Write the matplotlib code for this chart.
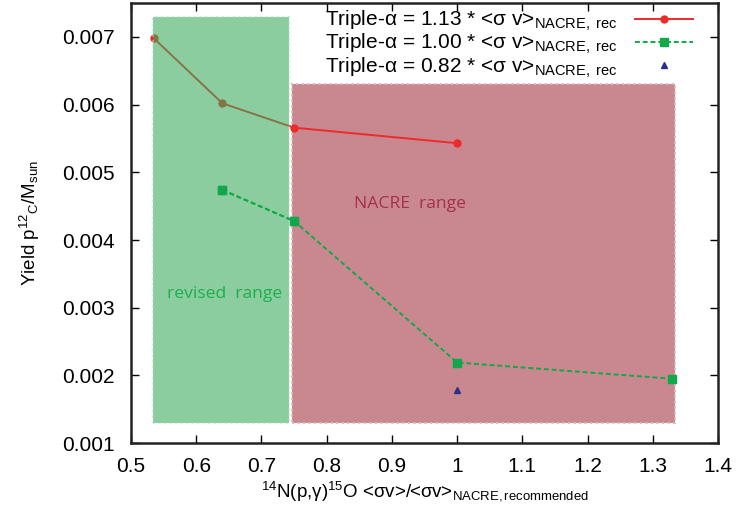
import matplotlib
matplotlib.use("Agg")
import matplotlib.pyplot as plt
from matplotlib.patches import Rectangle

plt.rcParams["font.family"] = ["Liberation Sans", "DejaVu Sans"]
plt.rcParams["mathtext.fontset"] = "custom"
plt.rcParams["mathtext.rm"] = "Liberation Sans"
plt.rcParams["mathtext.it"] = "Liberation Sans:italic"
plt.rcParams["mathtext.default"] = "regular"

# data
x_113 = [0.535, 0.64, 0.75, 1.0]
y_113 = [0.00698, 0.00602, 0.00566, 0.00543]
x_100 = [0.64, 0.75, 1.0, 1.33]
y_100 = [0.00474, 0.00428, 0.00219, 0.00195]
x_082 = [1.0]
y_082 = [0.00179]

revised_x = (0.534, 0.743)
revised_y = (0.0013, 0.00729)
nacre_x = (0.747, 1.334)
nacre_y = (0.0013, 0.0063)

labels = [
    r"Triple-$\alpha$ = 1.13 * <$\sigma$ v>$_{NACRE,\ rec}$",
    r"Triple-$\alpha$ = 1.00 * <$\sigma$ v>$_{NACRE,\ rec}$",
    r"Triple-$\alpha$ = 0.82 * <$\sigma$ v>$_{NACRE,\ rec}$",
]

fig = plt.figure(figsize=(7.36, 5.17), dpi=100)
ax = fig.add_axes([0.178, 0.143, 0.7975, 0.851])

ax.add_patch(Rectangle((nacre_x[0], nacre_y[0]), nacre_x[1] - nacre_x[0], nacre_y[1] - nacre_y[0],
                       facecolor="#c9888f", edgecolor="#e0b8bc", linestyle=":", linewidth=1.5, zorder=1))

l1, = ax.plot(x_113, y_113, color="#ee2a2a", marker="o", markersize=5, linewidth=1.4, zorder=2)
l2, = ax.plot(x_100, y_100, color="#10a84a", marker="s", markersize=6, linewidth=1.4,
              linestyle=(0, (2.5, 1.5)), zorder=2)
l3, = ax.plot(x_082, y_082, color="#2e2e8c", marker="^", markersize=5, linestyle="none", zorder=2)

ax.add_patch(Rectangle((revised_x[0], revised_y[0]), revised_x[1] - revised_x[0], revised_y[1] - revised_y[0],
                       facecolor="#3aaa5a", alpha=0.58, edgecolor="#a8dcb6", linestyle=":", linewidth=1.5, zorder=3))
# green line stays green inside the revised box
ax.plot(x_100[:2], y_100[:2], color="#10a84a", marker="s", markersize=6, linewidth=1.4,
        linestyle=(0, (2.5, 1.5)), zorder=4)

ax.text(0.928, 0.00453, "NACRE  range", color="#a3304d", fontsize=12.6, family="Open Sans",
        ha="center", va="center", zorder=5)
ax.text(0.643, 0.0032, "revised  range", color="#1bb04f", fontsize=12.6, family="Open Sans",
        ha="center", va="center", zorder=5)

ax.set_xlim(0.5, 1.4)
ax.set_ylim(0.001, 0.0075)
ax.set_xticks([0.5, 0.6, 0.7, 0.8, 0.9, 1.0, 1.1, 1.2, 1.3, 1.4])
ax.set_xticklabels(["0.5", "0.6", "0.7", "0.8", "0.9", "1", "1.1", "1.2", "1.3", "1.4"])
ax.set_yticks([0.001, 0.002, 0.003, 0.004, 0.005, 0.006, 0.007])
ax.set_yticklabels(["0.001", "0.002", "0.003", "0.004", "0.005", "0.006", "0.007"])
ax.tick_params(direction="in", top=True, right=True, labelsize=15, length=6, width=1)
ax.tick_params(axis="x", pad=10)
ax.tick_params(axis="y", pad=12)
for s in ax.spines.values():
    s.set_linewidth(1.8)
    s.set_color("#222222")

ax.set_xlabel(r"$^{14}$N(p,$\gamma$)$^{15}$O <$\sigma$v>/<$\sigma$v>$_{NACRE,recommended}$", fontsize=13.5, labelpad=2)
ax.set_ylabel(r"Yield p$^{12}$$_{C}$/M$_{sun}$", fontsize=13.5, labelpad=14)

ax.legend([l1, l2, l3], labels, loc="upper right", markerfirst=False, frameon=False,
          fontsize=15, handlelength=2.8, labelspacing=-0.05, borderaxespad=0.1,
          handletextpad=0.8, bbox_to_anchor=(0.975, 1.01))

fig.savefig("out.png", dpi=100)
